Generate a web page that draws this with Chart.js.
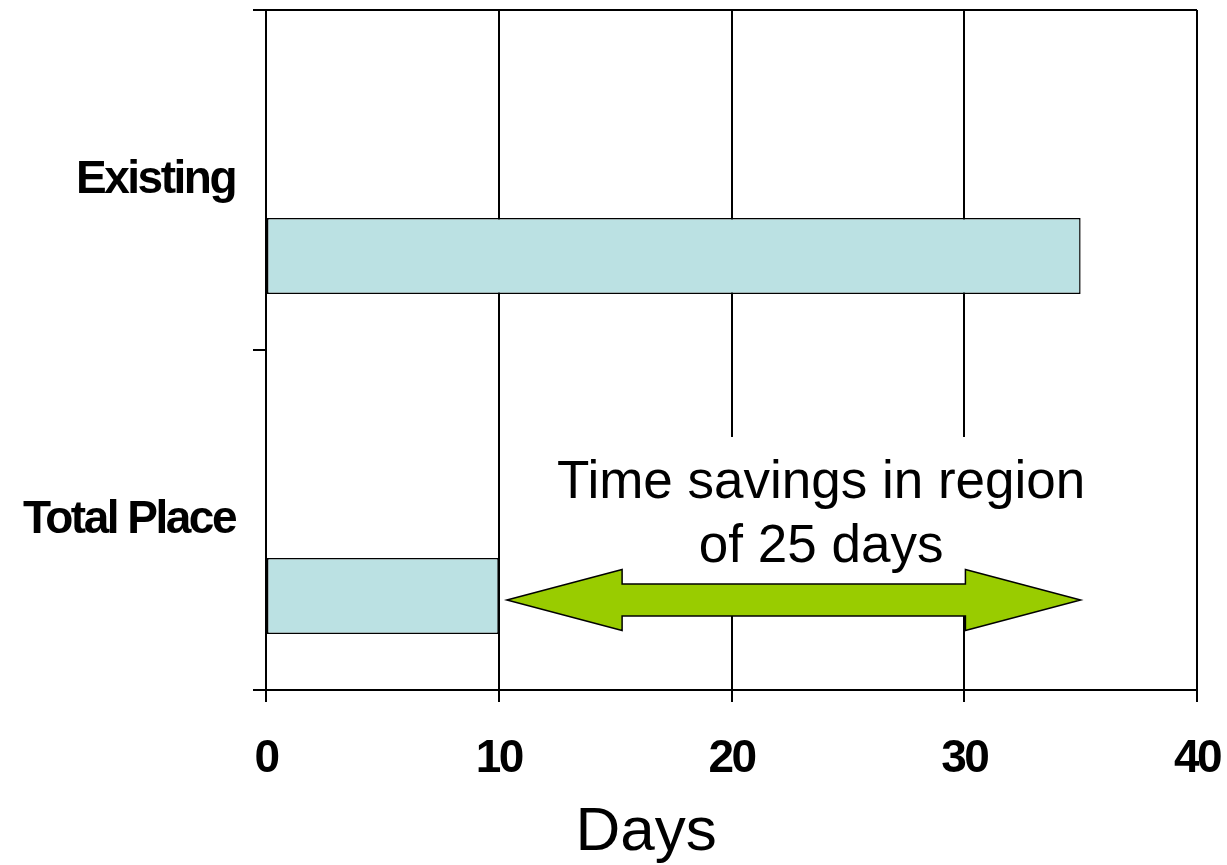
<!DOCTYPE html>
<html>
<head>
<meta charset="utf-8">
<script src="https://cdn.jsdelivr.net/npm/chart.js@4"></script>
<style>
  html, body { margin: 0; padding: 0; background: #fff; }
  #wrap { width: 1227px; height: 865px; }
</style>
</head>
<body>
<div id="wrap"><canvas id="myChart"></canvas></div>
<script>
// categories and values
const categories = ['Existing', 'Total Place'];
const spacer = [null, null];      // empty series, pushes the bars into the lower half of each band
const days = [35, 10];
const xTicks = [0, 10, 20, 30, 40];
const xTitle = 'Days';
const noteLines = ['Time savings in region', 'of 25 days'];
const saving = [10.35, 35];        // arrow from end of Total Place to end of Existing

const sans = "'Liberation Sans', Arial, sans-serif";

// the axis labels in the picture are tightly spaced bold Arial
const spacingPlugin = {
    id: 'spacing',
    beforeDraw(chart) { chart.ctx.letterSpacing = '-2.5px'; },
    beforeDatasetsDraw(chart) { chart.ctx.letterSpacing = '0px'; }
};

// white box + text + green double arrow, and the axis title (sits left of centre)
const notePlugin = {
    id: 'note',
    afterDatasetsDraw(chart) {
        const ctx = chart.ctx;
        const x = chart.scales.x;
        const bar = chart.getDatasetMeta(1).data[1];
        const cy = bar.y + 4;
        const tx = x.getPixelForValue(23.85);
        ctx.save();
        ctx.letterSpacing = '0px';
        ctx.font = '53px ' + sans;
        let w = 0;
        noteLines.forEach(l => { w = Math.max(w, ctx.measureText(l).width); });
        const base1 = bar.y - 98;
        // white background behind the text
        ctx.fillStyle = '#fff';
        ctx.fillRect(tx - w / 2 - 12, base1 - 61, w + 24, cy - base1 + 61);
        ctx.fillStyle = '#000';
        ctx.textAlign = 'center';
        ctx.textBaseline = 'alphabetic';
        ctx.fillText(noteLines[0], tx, base1);
        ctx.fillText(noteLines[1], tx, base1 + 64);

        // arrow
        const x0 = x.getPixelForValue(saving[0]);
        const x1 = x.getPixelForValue(saving[1]);
        const head = x.getPixelForValue(4.95) - x.getPixelForValue(0);
        const hh = 30.5, sh = 16;
        ctx.beginPath();
        ctx.moveTo(x0, cy);
        ctx.lineTo(x0 + head, cy - hh);
        ctx.lineTo(x0 + head, cy - sh);
        ctx.lineTo(x1 - head, cy - sh);
        ctx.lineTo(x1 - head, cy - hh);
        ctx.lineTo(x1, cy);
        ctx.lineTo(x1 - head, cy + hh);
        ctx.lineTo(x1 - head, cy + sh);
        ctx.lineTo(x0 + head, cy + sh);
        ctx.lineTo(x0 + head, cy + hh);
        ctx.closePath();
        ctx.fillStyle = '#99CC00';
        ctx.fill();
        ctx.lineWidth = 1.5;
        ctx.strokeStyle = '#000';
        ctx.stroke();

        // x axis title
        ctx.font = '62px ' + sans;
        ctx.fillStyle = '#000';
        ctx.fillText(xTitle, x.getPixelForValue(16.33), x.bottom - 15);
        ctx.restore();
    }
};

const config = {
    type: 'bar',
    data: {
        labels: categories,
        datasets: [{
            label: 'spacer',
            data: spacer,
            backgroundColor: 'rgba(0,0,0,0)'
        }, {
            label: 'Days',
            data: days,
            backgroundColor: '#BBE1E3',
            borderColor: '#000',
            borderWidth: 1.5,
            borderSkipped: false
        }]
    },
    options: {
        indexAxis: 'y',
        responsive: true,
        maintainAspectRatio: false,
        animation: false,
        layout: { padding: 0 },
        datasets: {
            bar: { categoryPercentage: 0.894, barPercentage: 0.5 }
        },
        plugins: {
            legend: { display: false },
            tooltip: { enabled: false }
        },
        scales: {
            x: {
                min: 0,
                max: 40,
                afterBuildTicks: (s) => { s.ticks = xTicks.map(v => ({ value: v })); },
                afterFit: (s) => { s.height = 175; s.paddingLeft = 0; s.paddingRight = 30; },
                grid: { color: '#000', lineWidth: 2, tickLength: 12, tickColor: '#000' },
                border: { color: '#000', width: 2 },
                ticks: {
                    color: '#000',
                    padding: 30,
                    font: { family: sans, size: 46, weight: 'bold' }
                }
            },
            y: {
                afterFit: (s) => { s.width = 266; s.paddingTop = 10; s.paddingBottom = 0; },
                grid: {
                    color: (c) => c.index === 1 ? 'rgba(0,0,0,0)' : '#000',
                    tickColor: '#000',
                    lineWidth: 2,
                    tickLength: 13
                },
                border: { color: '#000', width: 2 },
                ticks: {
                    color: '#000',
                    padding: 18,
                    font: { family: sans, size: 46, weight: 'bold' }
                }
            }
        }
    },
    plugins: [spacingPlugin, notePlugin]
};

var myChart = new Chart(document.getElementById('myChart'), config);
</script>
</body>
</html>
